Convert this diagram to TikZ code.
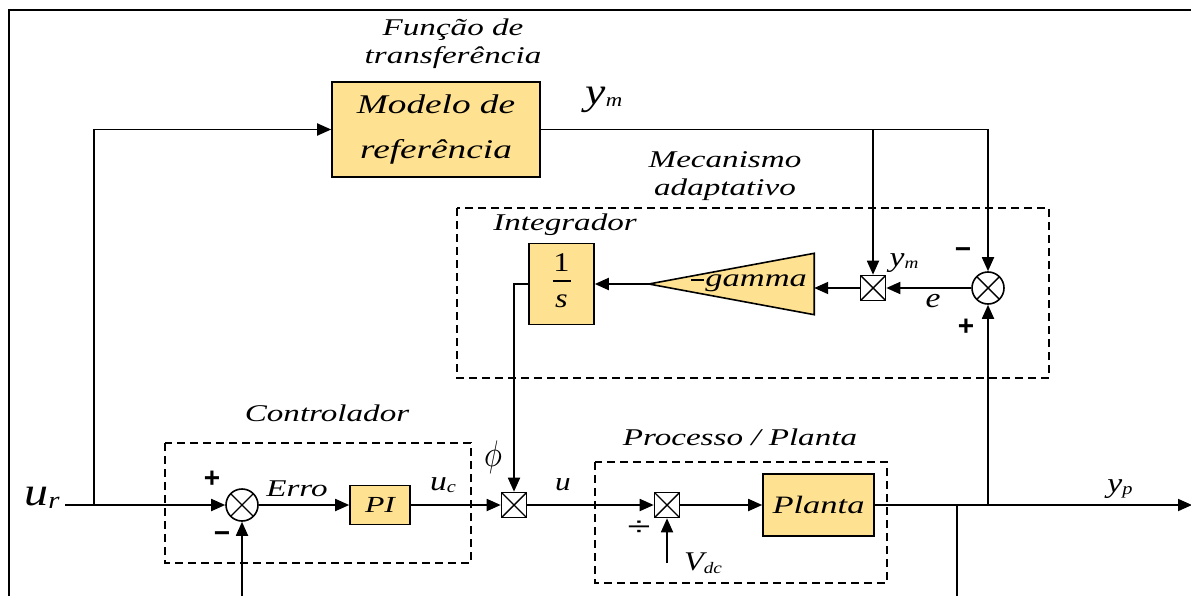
\documentclass[tikz,border=0pt]{standalone}
\usepackage{fontspec}
\setmainfont{Liberation Serif}
\newfontfamily\dfont[FakeStretch=1.38]{Liberation Serif}
\newfontfamily\mfont[FakeStretch=1.2]{Liberation Serif}
\newfontfamily\sgnfont{Liberation Sans}
\usetikzlibrary{arrows.meta,calc}
\definecolor{blockfill}{HTML}{FFE291}
\newcommand\lblfont{\dfont\itshape\fontsize{24}{28}\selectfont}
\newcommand\bigfont{\dfont\itshape\fontsize{27}{45}\selectfont}
% variable with subscript: base letter, subscript, base size, subscript size
\newcommand\varsub[4]{{\mfont\itshape\fontsize{#3}{#3}\selectfont #1}\raisebox{-0.45ex}{\mfont\itshape\fontsize{#4}{#4}\selectfont #2}}
\newcommand\sgn[1]{{\sgnfont\bfseries\fontsize{28}{28}\selectfont #1}}
\tikzset{
  conn/.style={line width=1.8pt, -{Triangle[length=14pt,width=12pt]}},
  wire/.style={line width=1.8pt},
  block/.style={draw, line width=1.6pt, fill=blockfill, inner sep=0pt, font=\lblfont, align=center},
  xcross/.style={path picture={\draw[line width=1.4pt]
      (path picture bounding box.south west) -- (path picture bounding box.north east)
      (path picture bounding box.north west) -- (path picture bounding box.south east);}},
  mult/.style={draw, line width=1.6pt, fill=white, minimum size=25pt, inner sep=0pt, xcross},
  summ/.style={circle, draw, line width=1.6pt, fill=white, minimum size=32pt, inner sep=0pt, xcross},
  group/.style={draw, line width=1.6pt, dash pattern=on 8pt off 5pt},
  txt/.style={inner sep=0pt, font=\lblfont, align=center}
}
\begin{document}
\begin{tikzpicture}[x=1pt,y=-1pt]
\useasboundingbox (0,0) rectangle (1191,596);
\clip (0,0) rectangle (1191,596);
\fill[white] (0,0) rectangle (1191,596);

% outer frame
\draw[line width=2.4pt] (9,620) -- (9,10) -- (1220,10);

% dashed groups
\draw[group] (457,208) rectangle (1049,378);
\draw[group] (165,443) rectangle (471,563);
\draw[group] (595,462) rectangle (887,583);

% group captions
\node[txt] (capTF) at (453,44) {Função de\\transferência};
\node[txt] (capMA) at (725,176) {Mecanismo\\adaptativo};
\node[txt] (capInt) at (565,225) {Integrador};
\node[txt] (capCtl) at (327,413) {Controlador};
\node[txt] (capPl) at (740,437) {Processo / Planta};

% blocks
\node[block, minimum width=208pt, minimum height=95pt, font=\bigfont] (model) at (436,129.5) {Modelo de\\referência};
\node[block, minimum width=65pt, minimum height=81pt] (integ) at (561.5,284) {};
\node[inner sep=0pt, font=\mfont\fontsize{27}{27}\selectfont] (one) at (561.5,263) {1};
\node[inner sep=0pt, font=\mfont\itshape\fontsize{27}{27}\selectfont] (ess) at (561.5,301) {s};
\draw[line width=1.3pt] ($(integ.center)+(-9,-3)$) -- ($(integ.center)+(9,-3)$);
\node[inner sep=0pt, minimum width=165pt, minimum height=61pt] (gain) at (731.5,284) {};
\fill[blockfill, draw=black, line width=1.6pt] (gain.west) -- (gain.north east) -- (gain.south east) -- cycle;
\node[inner sep=0pt, anchor=east, font=\dfont\itshape\fontsize{25}{25}\selectfont] (gainT) at ($(gain.east)+(-7,-1)$) {\rule[5.5pt]{13pt}{1.3pt}\hspace{1pt}gamma};
\node[block, minimum width=60pt, minimum height=39pt, font=\dfont\itshape\fontsize{23}{23}\selectfont] (pi) at (380,505) {PI};
\node[block, minimum width=111pt, minimum height=62pt, font=\dfont\itshape\fontsize{25}{25}\selectfont] (planta) at (818.5,505) {Planta};

% multipliers and summing junctions
\node[mult] (mulE) at (873,288) {};
\node[summ] (sumA) at (988,288) {};
\node[summ] (sumC) at (242,505) {};
\node[mult] (mulU) at (514,505) {};
\node[mult] (mulD) at (667,505) {};

% free ends
\coordinate (urIn) at (65,505);
\coordinate (brU) at (94,505);
\coordinate (yOut) at (1192,505);
\coordinate (brDown) at (957,505);
\coordinate (bottomR) at (957,600);
\coordinate (fbC) at (242,600);
\coordinate (vdc) at (667,563);

% connectors
\draw[conn] (urIn) -- (sumC.west);
\draw[conn] (brU) |- (model.west);
\draw[conn] (model.east) -| (sumA.north);
\draw[conn] (mulE.north |- model.east) -- (mulE.north);
\draw[conn] (sumA.west) -- (mulE.east);
\draw[conn] (mulE.west) -- (gain.east |- mulE.west);
\draw[conn] (gain.west) -- (integ.east |- gain.west);
\draw[conn] (integ.west) -| (mulU.north);
\draw[conn] (sumC.east) -- (pi.west);
\draw[conn] (pi.east) -- (mulU.west);
\draw[conn] (mulU.east) -- (mulD.west);
\draw[conn] (mulD.east) -- (planta.west);
\draw[conn] (vdc) -- (mulD.south);
\draw[conn] (planta.east) -- (yOut);
\draw[conn] (sumA.south |- planta.east) -- (sumA.south);
\draw[wire] (brDown) -- (bottomR);
\draw[conn] (fbC) -- (sumC.south);

% signal labels
\node[inner sep=0pt] (lUr) at (42,498) {{\mfont\itshape\fontsize{40}{40}\selectfont u}\raisebox{-0.55ex}{\mfont\itshape\fontsize{24}{24}\selectfont r}};
\node[inner sep=0pt] (lYm) at (604,100) {\varsub{y}{m}{38}{19}};
\node[inner sep=0pt] (lYm2) at (904,263) {\varsub{y}{m}{28}{16}};
\node[inner sep=0pt, font=\mfont\itshape\fontsize{28}{28}\selectfont] (lE) at (933,301) {e};
\node[inner sep=0pt] (mA) at (963,253) {\sgn{\textminus}};
\node[inner sep=0pt] (pA) at (966,327) {\sgn{+}};
\node[inner sep=0pt] (pC) at (212,479) {\sgn{+}};
\node[inner sep=0pt] (mC) at (222,537) {\sgn{\textminus}};
\node[inner sep=0pt, font=\lblfont] (lErro) at (297,489) {Erro};
\node[inner sep=0pt] (lUc) at (443,485) {\varsub{u}{c}{28}{17}};
\node[inner sep=0pt] (lPhi) at (493,457) {\scalebox{3.0}[3.7]{$\phi$}};
\node[inner sep=0pt, font=\mfont\itshape\fontsize{26}{26}\selectfont] (lU) at (563,485) {u};
\node[inner sep=0pt] (lDiv) at (639,528) {\sgnfont\fontsize{26}{26}\selectfont\scalebox{1.6}[1]{÷}};
\node[inner sep=0pt] (lVdc) at (703,563) {{\mfont\itshape\fontsize{27}{27}\selectfont V}\raisebox{-0.6ex}{\mfont\itshape\fontsize{16}{16}\selectfont dc}};
\node[inner sep=0pt] (lYp) at (1120,489) {\varsub{y}{p}{28}{17}};
\end{tikzpicture}
\end{document}
